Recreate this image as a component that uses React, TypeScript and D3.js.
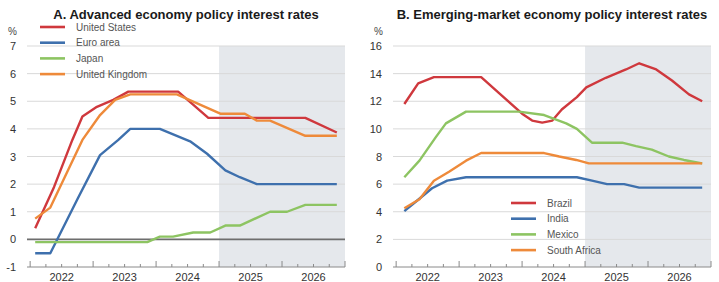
import * as d3 from 'd3';
import React from 'react';

type Pt = [number, number];

// Panel A – advanced economies (decimal year, policy rate %)
const usRates: Pt[] = [
  [2022.08, 0.4], [2022.38, 1.9], [2022.67, 3.6], [2022.83, 4.45], [2023.06, 4.8],
  [2023.32, 5.05], [2023.56, 5.35], [2024.35, 5.35], [2024.83, 4.4], [2026.37, 4.4],
  [2026.87, 3.87],
];
const euroRates: Pt[] = [
  [2022.08, -0.5], [2022.32, -0.5], [2022.76, 1.5], [2023.11, 3.05], [2023.4, 3.6],
  [2023.59, 4.0], [2024.06, 4.0], [2024.54, 3.55], [2024.81, 3.1], [2025.1, 2.5],
  [2025.33, 2.25], [2025.6, 2.0], [2026.87, 2.0],
];
const japanRates: Pt[] = [
  [2022.08, -0.1], [2023.86, -0.1], [2024.06, 0.1], [2024.27, 0.1], [2024.59, 0.25],
  [2024.86, 0.25], [2025.1, 0.5], [2025.33, 0.5], [2025.81, 1.0], [2026.08, 1.0],
  [2026.37, 1.25], [2026.87, 1.25],
];
const ukRates: Pt[] = [
  [2022.08, 0.75], [2022.32, 1.15], [2022.83, 3.6], [2023.11, 4.5], [2023.35, 5.05],
  [2023.59, 5.25], [2024.33, 5.25], [2025.02, 4.55], [2025.41, 4.55], [2025.6, 4.3],
  [2025.81, 4.3], [2026.37, 3.75], [2026.87, 3.75],
];

// Panel B – emerging markets
const brazilRates: Pt[] = [
  [2022.13, 11.8], [2022.35, 13.3], [2022.6, 13.75], [2023.35, 13.75], [2023.63, 12.6],
  [2024.0, 11.1], [2024.16, 10.6], [2024.32, 10.45], [2024.48, 10.6], [2024.63, 11.4],
  [2024.87, 12.3], [2025.02, 13.0], [2025.33, 13.7], [2025.65, 14.3], [2025.86, 14.75],
  [2026.13, 14.3], [2026.38, 13.5], [2026.65, 12.5], [2026.86, 12.0],
];
const indiaRates: Pt[] = [
  [2022.13, 4.05], [2022.33, 4.8], [2022.57, 5.7], [2022.81, 6.25], [2023.11, 6.5],
  [2024.87, 6.5], [2025.11, 6.25], [2025.35, 6.0], [2025.62, 6.0], [2025.86, 5.75],
  [2026.86, 5.75],
];
const mexicoRates: Pt[] = [
  [2022.13, 6.5], [2022.37, 7.7], [2022.63, 9.4], [2022.79, 10.4], [2023.11, 11.25],
  [2023.95, 11.25], [2024.35, 11.0], [2024.7, 10.4], [2024.87, 10.0], [2025.11, 9.0],
  [2025.59, 9.0], [2025.81, 8.75], [2026.06, 8.5], [2026.33, 8.0], [2026.57, 7.75],
  [2026.86, 7.5],
];
const southAfricaRates: Pt[] = [
  [2022.13, 4.25], [2022.37, 4.9], [2022.6, 6.25], [2022.84, 6.9], [2023.11, 7.7],
  [2023.35, 8.25], [2024.35, 8.25], [2024.59, 8.0], [2024.86, 7.75], [2025.06, 7.5],
  [2026.86, 7.5],
];

const yearLabels = [2022, 2023, 2024, 2025, 2026];
const ticksA = [-1, 0, 1, 2, 3, 4, 5, 6, 7];
const ticksB = [0, 2, 4, 6, 8, 10, 12, 14, 16];
const projectionStart = 2025;

const RED = '#cf383d';
const BLUE = '#3e70ad';
const GREEN = '#8dc462';
const ORANGE = '#ee8a3a';
const FONT = '"Liberation Sans", Arial, sans-serif';

interface Series {
  name: string;
  color: string;
  data: Pt[];
}

interface PanelProps {
  title: string;
  titleX: number;
  left: number;
  right: number;
  yDomain: [number, number];
  yTicks: number[];
  series: Series[];
  legendX: number;
  legendY: number;
  zeroLine?: boolean;
}

const Panel: React.FC<PanelProps> = ({
  title, titleX, left, right, yDomain, yTicks, series, legendX, legendY, zeroLine,
}) => {
  const top = 46;
  const bottom = 267;
  const x = d3.scaleLinear().domain([2021.95, 2027]).range([left, right]);
  const y = d3.scaleLinear().domain(yDomain).range([bottom, top]);
  const line = d3.line<Pt>().x(d => x(d[0])).y(d => y(d[1]));

  const quarters = d3.range(2022, 2027.01, 0.25);

  return (
    <g>
      <text x={titleX} y={19} textAnchor="middle" fontFamily={FONT} fontWeight="bold"
        fontSize={13} fill="#1a1a1a">{title}</text>
      <rect x={x(projectionStart)} y={top} width={right - x(projectionStart)} height={bottom - top}
        fill="#e5e8ec" />
      {yTicks.slice(1).map(t => (
        <line key={t} x1={left} x2={right} y1={y(t)} y2={y(t)} stroke="#d9d9d9" strokeWidth={1} />
      ))}
      {yTicks.map(t => (
        <text key={t} x={left - 11} y={y(t) + 4} textAnchor="end" fontFamily={FONT} fontSize={11}
          fill="#333">{t}</text>
      ))}
      <text x={left - 19} y={35} fontFamily={FONT} fontSize={10} fill="#444">%</text>
      <line x1={left} x2={right} y1={bottom} y2={bottom} stroke="#8a8a8a" strokeWidth={1} />
      {quarters.map(q => {
        const major = Math.abs(q - Math.round(q)) < 1e-6;
        return (
          <line key={q} x1={x(q)} x2={x(q)} y1={bottom} y2={bottom - (major ? 6 : 3)}
            stroke="#8a8a8a" strokeWidth={1} />
        );
      })}
      {yearLabels.map(yr => (
        <text key={yr} x={x(yr + 0.5)} y={281} textAnchor="middle" fontFamily={FONT} fontSize={11}
          fill="#333">{yr}</text>
      ))}
      {zeroLine && (
        <line x1={left} x2={right} y1={y(0)} y2={y(0)} stroke="#6e6e6e" strokeWidth={1.6} />
      )}
      {series.map(s => (
        <path key={s.name} d={line(s.data) || ''} fill="none" stroke={s.color} strokeWidth={2.4}
          strokeLinejoin="round" />
      ))}
      {series.map((s, i) => (
        <g key={s.name} transform={`translate(${legendX},${legendY + i * 15.7})`}>
          <line x1={0} x2={25} y1={0} y2={0} stroke={s.color} strokeWidth={2.6} />
          <text x={36} y={3.5} fontFamily={FONT} fontSize={10} fill="#555">{s.name}</text>
        </g>
      ))}
    </g>
  );
};

export default function App() {
  return (
    <svg width={719} height={282} style={{ position: 'absolute', left: 0, top: 0, background: '#fff' }}>
      <Panel
        title="A. Advanced economy policy interest rates"
        titleX={186}
        left={27}
        right={345}
        yDomain={[-1, 7]}
        yTicks={ticksA}
        zeroLine
        legendX={40}
        legendY={27}
        series={[
          { name: 'United States', color: RED, data: usRates },
          { name: 'Euro area', color: BLUE, data: euroRates },
          { name: 'Japan', color: GREEN, data: japanRates },
          { name: 'United Kingdom', color: ORANGE, data: ukRates },
        ]}
      />
      <Panel
        title="B. Emerging-market economy policy interest rates"
        titleX={552}
        left={393}
        right={711}
        yDomain={[0, 16]}
        yTicks={ticksB}
        legendX={511}
        legendY={203}
        series={[
          { name: 'Brazil', color: RED, data: brazilRates },
          { name: 'India', color: BLUE, data: indiaRates },
          { name: 'Mexico', color: GREEN, data: mexicoRates },
          { name: 'South Africa', color: ORANGE, data: southAfricaRates },
        ]}
      />
    </svg>
  );
}
